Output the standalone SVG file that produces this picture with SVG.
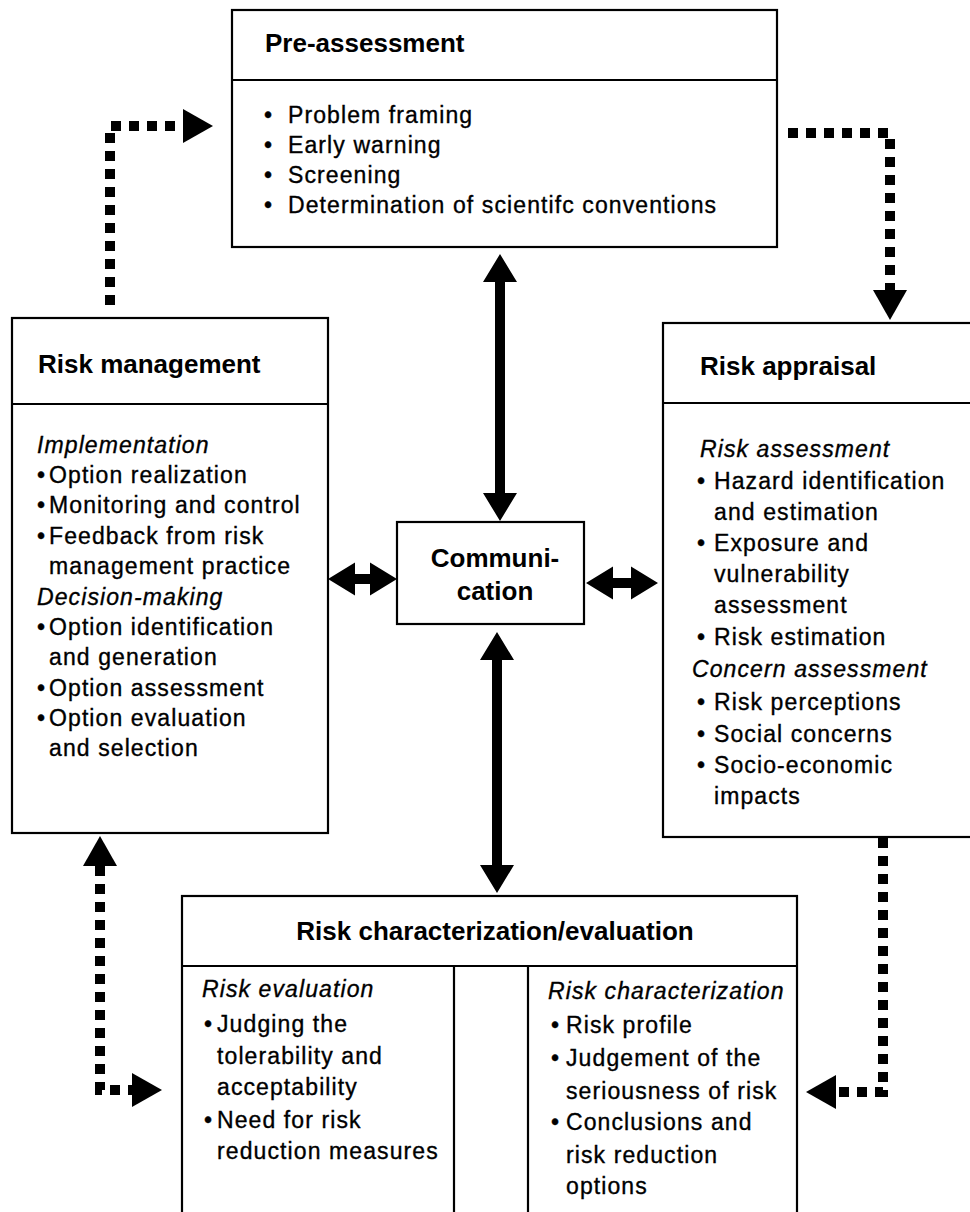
<svg xmlns="http://www.w3.org/2000/svg" width="970" height="1212" viewBox="0 0 970 1212">
<defs>
<style>
.box{fill:#fff;stroke:#000;stroke-width:2.2}
.div{stroke:#000;stroke-width:2.2;fill:none}
.hd{font-family:"Liberation Sans",Arial,Helvetica,sans-serif;font-weight:bold;font-size:26px;fill:#000}
.tx{font-family:"Liberation Sans",Arial,Helvetica,sans-serif;font-size:23px;letter-spacing:1.1px;fill:#000;stroke:#000;stroke-width:0.35px}
.it{font-style:italic}
.solid{fill:#000;stroke:none}
.dot{fill:none;stroke:#000;stroke-width:10;stroke-dasharray:10 8}
</style>
<marker id="dhead" viewBox="0 0 30 34" refX="0" refY="17" markerWidth="30" markerHeight="34" orient="auto-start-reverse" markerUnits="userSpaceOnUse"><path d="M0,0 L30,17 L0,34 Z" fill="#000"/></marker>
</defs>
<rect width="970" height="1212" fill="#fff"/>

<g id="connectors">
<path class="dot" d="M110,305 V126 H183" marker-end="url(#dhead)"/>
<path class="dot" d="M788,133 H890 V290" marker-end="url(#dhead)"/>
<path class="dot" d="M100,866 V1090 H132" marker-start="url(#dhead)" marker-end="url(#dhead)"/>
<path class="dot" d="M883,838 V1092 H836" marker-end="url(#dhead)"/>
<polygon class="solid" points="500,254 517,282 505,282 505,493 517,493 500,521 483,493 495,493 495,282 483,282"/>
<polygon class="solid" points="497,632 514,660 502,660 502,865 514,865 497,893 480,865 492,865 492,660 480,660"/>
<polygon class="solid" points="328,579 355,562.5 355,574 370,574 370,562.5 397,579 370,595.5 370,584 355,584 355,595.5"/>
<polygon class="solid" points="586,583 613,566.5 613,578 631,578 631,566.5 658,583 631,599.5 631,588 613,588 613,599.5"/>
</g>

<g id="pre-assessment">
<rect class="box" x="232" y="10" width="545" height="237"/>
<line class="div" x1="232" y1="80" x2="777" y2="80"/>
<text class="hd" x="265" y="52">Pre-assessment</text>
<text class="tx" x="264" y="123">•</text><text class="tx" x="288" y="123">Problem framing</text>
<text class="tx" x="264" y="153">•</text><text class="tx" x="288" y="153">Early warning</text>
<text class="tx" x="264" y="183">•</text><text class="tx" x="288" y="183">Screening</text>
<text class="tx" x="264" y="213">•</text><text class="tx" x="288" y="213">Determination of scientifc conventions</text>
</g>

<g id="risk-management">
<rect class="box" x="12" y="318" width="316" height="515"/>
<line class="div" x1="12" y1="404" x2="328" y2="404"/>
<text class="hd" x="38" y="373">Risk management</text>
<text class="tx it" x="37" y="453">Implementation</text>
<text class="tx" x="37" y="483">•</text><text class="tx" x="49" y="483">Option realization</text>
<text class="tx" x="37" y="513">•</text><text class="tx" x="49" y="513">Monitoring and control</text>
<text class="tx" x="37" y="544">•</text><text class="tx" x="49" y="544">Feedback from risk</text>
<text class="tx" x="49" y="574">management practice</text>
<text class="tx it" x="37" y="605">Decision-making</text>
<text class="tx" x="37" y="635">•</text><text class="tx" x="49" y="635">Option identification</text>
<text class="tx" x="49" y="665">and generation</text>
<text class="tx" x="37" y="696">•</text><text class="tx" x="49" y="696">Option assessment</text>
<text class="tx" x="37" y="726">•</text><text class="tx" x="49" y="726">Option evaluation</text>
<text class="tx" x="49" y="756">and selection</text>
</g>

<g id="communication">
<rect class="box" x="397" y="522" width="187" height="102"/>
<text class="hd" x="495" y="567" text-anchor="middle">Communi-</text>
<text class="hd" x="495" y="600" text-anchor="middle">cation</text>
</g>

<g id="risk-appraisal">
<rect class="box" x="663" y="323" width="320" height="514"/>
<line class="div" x1="663" y1="403" x2="983" y2="403"/>
<text class="hd" x="700" y="375">Risk appraisal</text>
<text class="tx it" x="700" y="457">Risk assessment</text>
<text class="tx" x="697" y="489">•</text><text class="tx" x="714" y="489">Hazard identification</text>
<text class="tx" x="714" y="520">and estimation</text>
<text class="tx" x="697" y="551">•</text><text class="tx" x="714" y="551">Exposure and</text>
<text class="tx" x="714" y="582">vulnerability</text>
<text class="tx" x="714" y="613">assessment</text>
<text class="tx" x="697" y="645">•</text><text class="tx" x="714" y="645">Risk estimation</text>
<text class="tx it" x="692" y="677">Concern assessment</text>
<text class="tx" x="697" y="710">•</text><text class="tx" x="714" y="710">Risk perceptions</text>
<text class="tx" x="697" y="742">•</text><text class="tx" x="714" y="742">Social concerns</text>
<text class="tx" x="697" y="773">•</text><text class="tx" x="714" y="773">Socio-economic</text>
<text class="tx" x="714" y="804">impacts</text>
</g>

<g id="risk-characterization-evaluation">
<rect class="box" x="182" y="896" width="615" height="340"/>
<line class="div" x1="182" y1="966" x2="797" y2="966"/>
<line class="div" x1="454" y1="966" x2="454" y2="1236"/>
<line class="div" x1="528" y1="966" x2="528" y2="1236"/>
<text class="hd" x="495" y="940" text-anchor="middle">Risk characterization/evaluation</text>
<text class="tx it" x="202" y="997">Risk evaluation</text>
<text class="tx" x="204" y="1032">•</text><text class="tx" x="217" y="1032">Judging the</text>
<text class="tx" x="217" y="1064">tolerability and</text>
<text class="tx" x="217" y="1095">acceptability</text>
<text class="tx" x="204" y="1128">•</text><text class="tx" x="217" y="1128">Need for risk</text>
<text class="tx" x="217" y="1159">reduction measures</text>
<text class="tx it" x="548" y="999">Risk characterization</text>
<text class="tx" x="551" y="1033">•</text><text class="tx" x="566" y="1033">Risk profile</text>
<text class="tx" x="551" y="1066">•</text><text class="tx" x="566" y="1066">Judgement of the</text>
<text class="tx" x="566" y="1099">seriousness of risk</text>
<text class="tx" x="551" y="1130">•</text><text class="tx" x="566" y="1130">Conclusions and</text>
<text class="tx" x="566" y="1163">risk reduction</text>
<text class="tx" x="566" y="1194">options</text>
</g>
</svg>
